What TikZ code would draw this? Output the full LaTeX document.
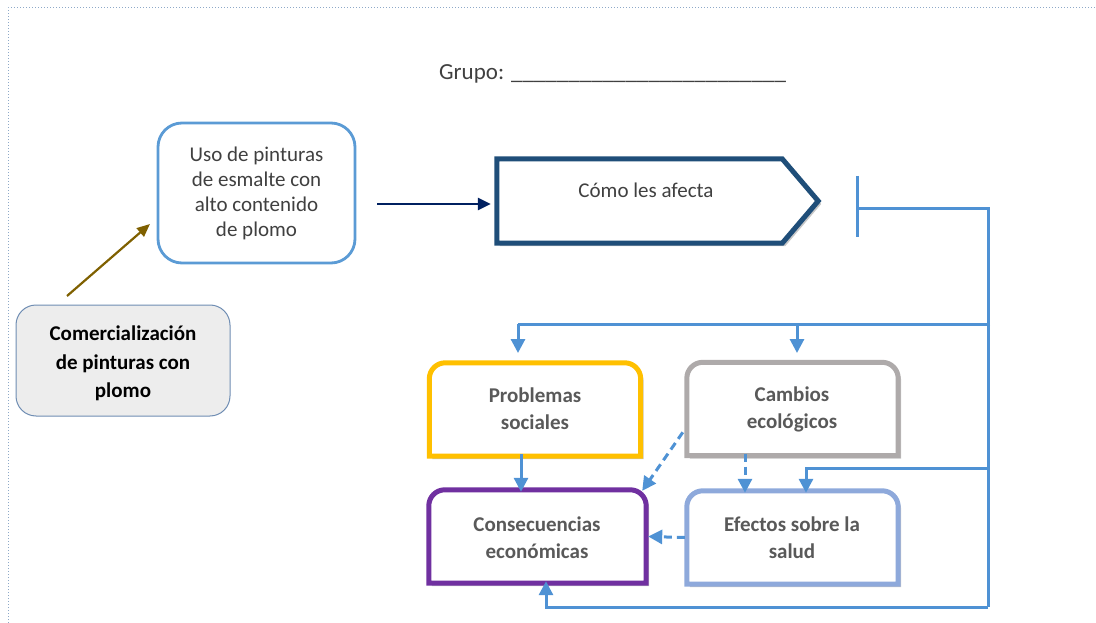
\documentclass[tikz,border=0pt]{standalone}
\usepackage{fontspec}
\setmainfont{Carlito}
\usetikzlibrary{arrows.meta,shadows}
\definecolor{usoblue}{HTML}{5B9BD5}
\definecolor{navy}{HTML}{002060}
\definecolor{pentblue}{HTML}{1F4E79}
\definecolor{connblue}{HTML}{4F92D4}
\definecolor{olive}{HTML}{7F6000}
\definecolor{commborder}{HTML}{6F8DB3}
\definecolor{commfill}{HTML}{EDEDED}
\definecolor{yel}{HTML}{FFC000}
\definecolor{grayb}{HTML}{AEAAAA}
\definecolor{purp}{HTML}{7030A0}
\definecolor{lblue}{HTML}{8EA9DB}
\definecolor{txtgray}{HTML}{404040}
\definecolor{boldgray}{HTML}{595959}
\definecolor{framec}{HTML}{8EA9C8}
\tikzset{
  plain/.style={font=\fontsize{21}{25}\selectfont, text=txtgray, align=center},
  boldtxt/.style={font=\bfseries\fontsize{21}{27}\selectfont, text=boldgray, align=center},
  ghost/.style={draw=none, minimum width=211pt, minimum height=93pt, inner sep=0pt},
  conn/.style={draw=connblue, line width=3pt},
  tip/.style={-{Triangle[width=14pt,length=14pt]}},
  dashconn/.style={conn, dash pattern=on 8pt off 5pt},
  softshadow/.style={drop shadow={shadow xshift=3pt, shadow yshift=-3pt, opacity=0.22, fill=black}},
}
\newcommand\topboxpath[1]{(#1.south west) -- ([yshift=-16pt]#1.north west) arc[start angle=180, end angle=90, radius=16pt] -- ([xshift=-16pt]#1.north east) arc[start angle=90, end angle=0, radius=16pt] -- (#1.south east) -- cycle}
\newcommand\topbox[2]{%
  \path[softshadow, fill=white] \topboxpath{#1};
  \draw[line width=5pt, draw=#2, line join=miter] \topboxpath{#1};}
\begin{document}
\begin{tikzpicture}[x=1pt,y=-1pt]
\useasboundingbox (0,0) rectangle (1096,623);
% frame
\draw[framec, line width=1pt, dotted] (8,623) -- (8,8) -- (1096,8);
% Grupo
\node[anchor=base west, inner sep=0pt, font=\fontsize{23}{27}\selectfont, text=txtgray] (grupo) at (439,80) {Grupo: \_\_\_\_\_\_\_\_\_\_\_\_\_\_\_\_\_\_\_\_\_\_\_\_};
% Uso
\node[plain, draw=usoblue, line width=2.8pt, rounded corners=24pt, minimum width=197pt, minimum height=140pt, inner sep=0pt, fill=white] (uso) at (256.5,193) {Uso de pinturas\\de esmalte con\\alto contenido\\de plomo};
% Pentagon
\node[draw=none, minimum width=321pt, minimum height=84pt, inner sep=0pt] (pent) at (657.5,201) {};
\path[softshadow, fill=white] (pent.north west) -- ([xshift=-36pt]pent.north east) -- (pent.east) -- ([xshift=-36pt]pent.south east) -- (pent.south west) -- cycle;
\draw[pentblue, line width=5pt, line join=miter] (pent.north west) -- ([xshift=-36pt]pent.north east) -- (pent.east) -- ([xshift=-36pt]pent.south east) -- (pent.south west) -- cycle;
\node[plain] (afecta) at (646,190) {Cómo les afecta};
\draw[navy, line width=2.5pt, -{Triangle[width=12pt,length=13pt]}, shorten <=21pt, shorten >=6pt] (uso.east |- 0,204) -- (pent.west |- 0,204);
% Comercializacion
\node[draw=commborder, line width=1pt, fill=commfill, rounded corners=20pt, minimum width=214pt, minimum height=111pt, inner sep=0pt] (comm) at (123,360.5) {};
\node[align=center, font=\bfseries\fontsize{21}{28.5}\selectfont] (commtxt) at (123,363.5) {Comercialización\\de pinturas con\\plomo};
\coordinate (ostart) at (67,296);
\coordinate (oend) at (150,224);
\draw[olive, line width=2.2pt, -{Triangle[width=11pt,length=13pt]}] (ostart) -- (oend);
% lower boxes
\node[ghost] (prob) at (535,409.5) {};
\node[ghost] (camb) at (792.5,409) {};
\node[ghost, minimum width=217pt] (cons) at (537.5,536.5) {};
\node[ghost] (efec) at (792.5,537.5) {};
\topbox{prob}{yel}
\topbox{camb}{grayb}
\topbox{cons}{purp}
\topbox{efec}{lblue}
\node[boldtxt] (probtxt) at (535,409) {Problemas\\sociales};
\node[boldtxt] (cambtxt) at (792,409) {Cambios\\ecológicos};
\node[boldtxt] (constxt) at (537,537.5) {Consecuencias\\económicas};
\node[boldtxt] (efectxt) at (792,537.5) {Efectos sobre la\\salud};
% T bar and connectors
\coordinate (tt) at (857,176);
\coordinate (tbm) at (857,209);
\coordinate (tbb) at (857,237);
\coordinate (r1) at (988,209);
\coordinate (r2) at (988,324);
\coordinate (r3) at (988,468);
\coordinate (rb) at (988,607);
\draw[conn] (tt) -- (tbb);
\draw[conn] (tbm) -- (r1) -- (rb);
\draw[conn] ([xshift=2pt]r2) -- (518,324);
\coordinate (pa) at (518,324);
\coordinate (pb) at (518,353);
\coordinate (ca) at (797,324);
\coordinate (cb) at (797,353);
\draw[conn, tip] (pa) -- (pb);
\draw[conn, tip] (ca) -- (cb);
\draw[conn, tip] (r3) -| ([xshift=13.5pt,yshift=-2pt]efec.north);
\draw[conn, tip] (rb) -| ([xshift=8.5pt,yshift=2pt]cons.south);
\draw[conn, tip] ([xshift=-14pt,yshift=2pt]prob.south) -- ([xshift=-16.5pt,yshift=-2pt]cons.north);
\draw[dashconn, tip] ([xshift=-47.5pt,yshift=2pt]camb.south) -- ([xshift=-47.5pt,yshift=-2pt]efec.north);
\draw[dashconn, tip] ([xshift=-4pt,yshift=-70pt]camb.north west) -- ([xshift=-4pt,yshift=-1pt]cons.north east);
\draw[dashconn, tip] ([xshift=-2pt]efec.west) -- ([xshift=2pt]cons.east);
\end{tikzpicture}
\end{document}
